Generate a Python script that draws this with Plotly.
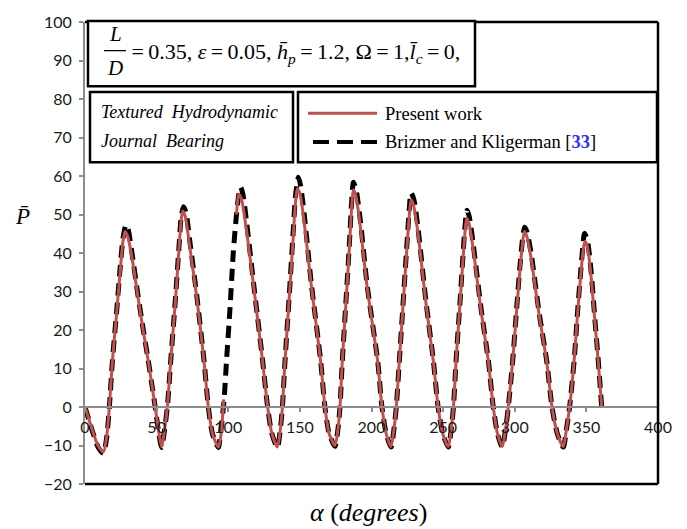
import plotly.graph_objects as go

# ---------------- data ----------------
red_x = [0, 3, 6, 9, 12.8, 15, 17, 19.1, 22, 24.5, 26.5, 28, 29.8, 32.5, 37, 41, 44.2, 47, 49, 51.5, 53.5,
         55.5, 57.5, 59.8, 63, 65.5, 67, 68.2, 70, 73, 78, 83.1, 86.1, 89, 93.1,
         95, 96.8, None, 105.8, 107.3, 109.2, 112.5, 118.5, 124, 127.5, 130.5, 134.3,
         136.3, 137.8, 139.6, 142.5, 145, 146.8, 148.2, 150, 153, 158, 164.5, 167.5, 170.5, 174.5,
         176.5, 178, 179.6, 182.5, 184.5, 186, 187.3, 189, 192, 197, 204.3, 207.3, 210.3, 213.6,
         215.6, 217.3, 219.4, 222.5, 224.5, 226.2, 227.6, 229.3, 232.5, 238, 243.2, 246.5, 249.8, 253.6,
         255.6, 257.2, 259, 262, 263.8, 265.2, 266.4, 268, 271, 276.5, 281.6, 285, 288, 291.3,
         293.5, 295.5, 298.5, 301.5, 303.5, 305.3, 306.7, 308.3, 311.5, 317, 322.3, 326, 329.8, 333.9,
         336, 338.3, 341.4, 344, 346, 347.7, 349, 350.5, 353, 356, 358.3, 360.7]
red_y = [0, -3.5, -7, -10, -11.7, -8, 0, 11.8, 24, 35, 43, 45.6, 44.3, 39.5, 28.5, 19, 11.8, 5, 0, -6.5, -10.4,
         -6, 0, 11.8, 27, 40.5, 48, 50.9, 49.5, 42, 28.5, 11.8, 0, -7, -10.4,
         -7, 2, None, 50, 55.3, 54, 46.5, 29, 11.8, 0, -7, -10.4,
         -6, 0, 11.8, 28, 42, 52.5, 56.7, 55.5, 48, 31.5, 11.8, 0, -7, -10,
         -6, 0, 11.8, 29, 41, 51, 56.4, 55, 47.5, 31, 11.8, 0, -7, -10.3,
         -6, 0, 11.8, 29, 40, 49, 53.8, 52.5, 45, 27, 11.8, 0, -7, -10.3,
         -6, 0, 11.8, 28, 38, 45, 49, 47.8, 41, 25, 11.8, 0, -7, -10.3,
         -6, 0, 11.8, 26, 35, 42, 45.6, 44.5, 38.5, 24, 11.8, 0, -7, -10.3,
         -6, 0, 11.8, 25, 34, 40.5, 43, 42, 35, 22, 11.8, 0]

blk_x = [0, 3, 6, 9, 12.8, 15, 17, 19.1, 22, 24.5, 26.6, 28.6, 30.2, 32.6, 37, 41, 44.2, 47, 49, 51.5, 53.5,
         55.5, 57.5, 59.8, 63, 65.5, 67.2, 68.8, 70.5, 73.2, 78, 83.1, 86.1, 89, 93.1,
         94.2, 97, 98.9, 101.2, 103.5, 105.5, 107.3, 108.6, 110.1, 112.8, 118.5, 124, 127.5, 130.5, 134.3,
         136.3, 137.8, 139.6, 142.5, 145, 147, 149, 150.5, 153.2, 158, 164.5, 167.5, 170.5, 174.5,
         176.5, 178, 179.6, 182.5, 184.5, 186.1, 187.4, 189.2, 192.2, 197, 204.3, 207.3, 210.3, 213.6,
         215.6, 217.3, 219.4, 222.5, 224.5, 226.3, 227.6, 229.5, 232.6, 238, 243.2, 246.5, 249.8, 253.6,
         255.6, 257.2, 259, 262, 263.8, 265.3, 266.7, 268.2, 271.1, 276.5, 281.6, 285, 288, 291.3,
         293.5, 295.5, 298.5, 301.5, 303.5, 305.4, 306.9, 308.5, 311.6, 317, 322.3, 326, 329.8, 333.9,
         336, 338.3, 341.4, 344, 346, 347.6, 348.7, 350.6, 353.1, 356, 358.3, 360.7]
blk_y = [0, -3.7, -7.2, -10.3, -12, -8.3, 0, 11.8, 24.5, 36, 44, 47.3, 46, 40.5, 29, 19.3, 12, 5, 0, -6.8, -10.5,
         -6, 0, 11.8, 27.5, 41, 49.5, 52, 50.5, 43, 29, 12, 0, -7, -10.5,
         -8.2, 1.5, 12.6, 25.5, 40, 49, 55, 57.1, 55.5, 48, 29.5, 12, 0, -7, -10.5,
         -6, 0, 11.8, 28.5, 43.5, 55, 59.7, 57.5, 49.5, 32, 12, 0, -7, -10.2,
         -6, 0, 11.8, 29.5, 42, 53, 58.4, 56.5, 48.5, 31.5, 12, 0, -7, -10.4,
         -6, 0, 11.8, 29.5, 41, 51, 55.6, 54, 46, 27.5, 12, 0, -7, -10.4,
         -6, 0, 11.8, 28.5, 39, 47, 51.1, 49.5, 42, 25.5, 12, 0, -7, -10.4,
         -6, 0, 11.8, 26.5, 36, 43.5, 46.7, 45.5, 39.5, 24.5, 12, 0, -7, -10.4,
         -6, 0, 11.8, 25.5, 35, 42, 45.1, 43.5, 36, 22.5, 12, 0]

x_ticks = [0, 50, 100, 150, 200, 250, 300, 350, 400]
y_ticks = [-20, -10, 0, 10, 20, 30, 40, 50, 60, 70, 80, 90, 100]

series_names = ["Present work", "Brizmer and Kligerman"]
RED = "#C0504D"
SERIF = "Liberation Serif"

# ---------------- figure ----------------
W, H = 687, 529
L, R, T, B = 85, 29, 16, 45
PW, PH = W - L - R, H - T - B


def px(x):
    return (x - L) / PW


def py(y):
    return (H - B - y) / PH


fig = go.Figure()
fig.add_trace(go.Scatter(x=blk_x, y=blk_y, mode="lines", name=series_names[1],
                         line=dict(color="black", width=5, dash="12px,7px", shape="spline", smoothing=0.7),
                         connectgaps=False, showlegend=False))
fig.add_trace(go.Scatter(x=red_x, y=red_y, mode="lines", name=series_names[0],
                         line=dict(color=RED, width=3, shape="spline", smoothing=0.7),
                         connectgaps=False, showlegend=False))

fig.update_layout(
    width=W, height=H, margin=dict(l=L, r=R, t=T, b=B),
    paper_bgcolor="white", plot_bgcolor="white", showlegend=False,
    xaxis=dict(range=[0, 400], tickvals=x_ticks, showgrid=False, zeroline=False,
               showline=True, linecolor="#8c8c8c", linewidth=2,
               ticks="outside", ticklen=4, tickcolor="#8c8c8c", tickwidth=1.5,
               anchor="free", position=20 / 120, ticklabelstandoff=2,
               tickfont=dict(family="Lato", size=16, color="#1a1a1a")),
    yaxis=dict(range=[-20, 100], tickvals=y_ticks, showgrid=False, zeroline=False,
               showline=True, linecolor="#8c8c8c", linewidth=2,
               ticks="outside", ticklen=4, tickcolor="#8c8c8c", tickwidth=1.5,
               ticklabelstandoff=4,
               tickfont=dict(family="Lato", size=16, color="#1a1a1a")),
)

shapes = []
# plot frame (top, right, bottom)
for (a, b, c, d) in [(0, 1, 1, 1), (1, 0, 1, 1), (0, 0, 1, 0)]:
    shapes.append(dict(type="line", xref="paper", yref="paper", x0=a, y0=b, x1=c, y1=d,
                       line=dict(color="black", width=2.5)))
# boxes
for (x0, y0, x1, y1) in [(88, 15, 475, 81), (90, 87, 293, 158), (298, 87, 657, 158)]:
    shapes.append(dict(type="rect", xref="paper", yref="paper",
                       x0=px(x0), x1=px(x1), y0=py(y1), y1=py(y0),
                       fillcolor="white", line=dict(color="black", width=2.5)))
# fraction bar
shapes.append(dict(type="line", xref="paper", yref="paper", x0=px(104), x1=px(126), y0=py(45), y1=py(45),
                   line=dict(color="black", width=1.3)))
# legend samples
shapes.append(dict(type="line", xref="paper", yref="paper", x0=px(308), x1=px(377), y0=py(108.5), y1=py(108.5),
                   line=dict(color=RED, width=3)))
shapes.append(dict(type="line", xref="paper", yref="paper", x0=px(313), x1=px(377), y0=py(137.5), y1=py(137.5),
                   line=dict(color="black", width=4, dash="16px,8px")))
fig.update_layout(shapes=shapes)


def ann(text, x, y, size, xanchor="left", italic=False, family=SERIF):
    t = f"<i>{text}</i>" if italic else text
    fig.add_annotation(text=t, xref="paper", yref="paper", x=px(x), y=py(y),
                       xanchor=xanchor, yanchor="middle", showarrow=False,
                       font=dict(family=family, size=size, color="black"))


ts = "\u2009"
ann("L", 115, 28, 21, xanchor="center", italic=True)
ann("D", 115, 63, 21, xanchor="center", italic=True)
ann(f"{ts}={ts}0.35, <i>ε</i>{ts}={ts}0.05, <i>h\u0304</i><sub><i>p</i></sub>{ts}={ts}1.2, "
    f"Ω{ts}={ts}1,<i>l\u0304</i><sub><i>c</i></sub>{ts}={ts}0,",
    125, 47, 22)
ann("Textured\u00a0\u00a0Hydrodynamic", 99, 107, 18, italic=True)
ann("Journal\u00a0\u00a0Bearing", 99, 137, 18, italic=True)
ann(series_names[0], 383, 109, 18.5)
ann(series_names[1] + " [<span style='color:#3333ee'><b>33</b></span>]", 383, 138, 18.5)
ann("P\u0304", 22, 213, 23, xanchor="center", italic=True)
ann("<i>α</i> (<i>degrees</i>)", 368, 513, 26, xanchor="center")

fig.write_html("out.html")
